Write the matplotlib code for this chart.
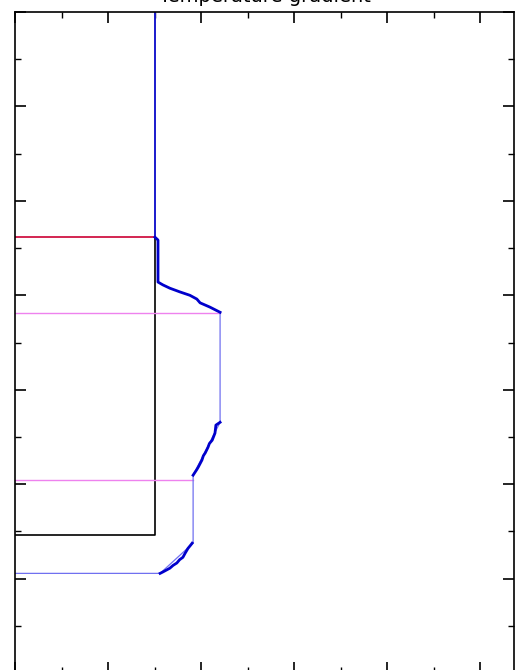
import matplotlib
matplotlib.use("Agg")
import matplotlib.pyplot as plt
from matplotlib.ticker import MultipleLocator

# ---- data (x value, depth) ----
# boundary box (black)
box_x = [0.301, 0.301, 0.0]
box_depth = [47.7, 110.8, 110.8]

# red marker line
red_x = [0.0, 0.301]
red_depth = [47.7, 47.7]

# violet marker lines
violet1_x = [0.0, 0.441]
violet1_depth = [63.8, 63.8]
violet2_x = [0.0, 0.383]
violet2_depth = [99.2, 99.2]

# measured profile segments (thick blue)
seg1_x = [0.301, 0.301, 0.3075, 0.3075, 0.318, 0.333, 0.355, 0.376, 0.391, 0.398, 0.419, 0.441]
seg1_depth = [0.0, 47.7, 48.3, 57.2, 57.8, 58.5, 59.3, 60.0, 60.8, 61.6, 62.5, 63.6]

seg2_x = [0.441, 0.432, 0.430, 0.424, 0.418, 0.415, 0.409, 0.405, 0.402, 0.394, 0.391, 0.387, 0.383]
seg2_depth = [86.9, 87.5, 89.2, 90.7, 91.4, 92.2, 93.4, 94.0, 94.9, 96.4, 96.9, 97.5, 98.1]

seg3_x = [0.381, 0.377, 0.372, 0.366, 0.361, 0.354, 0.348, 0.340, 0.333, 0.318, 0.312]
seg3_depth = [112.5, 113.0, 113.6, 114.6, 115.5, 116.0, 116.7, 117.2, 117.8, 118.6, 118.9]

# full profile path (thin blue connecting line)
path_x = [0.441, 0.441, 0.383, 0.383, 0.312, 0.0]
path_depth = [63.6, 86.9, 98.1, 112.5, 118.9, 118.9]

fig = plt.figure(figsize=(5.19, 6.70), dpi=100)
ax = fig.add_axes([15 / 519, -3 / 670, 499 / 519, 661 / 670])

ax.plot(box_x, box_depth, color="black", lw=1.2)
ax.plot(red_x, red_depth, color="#cc0033", lw=1.2)
ax.plot(violet1_x, violet1_depth, color="#ee82ee", lw=1.0)
ax.plot(violet2_x, violet2_depth, color="#ee82ee", lw=1.0)
ax.plot(path_x, path_depth, color="#7070f0", lw=0.9)
ax.plot(seg1_x[:2], seg1_depth[:2], color="#1a1acc", lw=1.4)
ax.plot(seg1_x[1:], seg1_depth[1:], color="#0000cc", lw=2.0)
ax.plot(seg2_x, seg2_depth, color="#0000cc", lw=2.0)
ax.plot(seg3_x, seg3_depth, color="#0000cc", lw=2.0)

ax.set_xlim(0, 1.073)
ax.set_ylim(140, 0)
ax.xaxis.set_major_locator(MultipleLocator(0.2))
ax.xaxis.set_minor_locator(MultipleLocator(0.1))
ax.yaxis.set_major_locator(MultipleLocator(20))
ax.yaxis.set_minor_locator(MultipleLocator(10))
ax.tick_params(which="both", direction="in", top=True, right=True,
               labelleft=False, labelbottom=False, color="black")
ax.tick_params(which="major", length=8, width=1.2)
ax.tick_params(which="minor", length=4.5, width=1.0)
for s in ax.spines.values():
    s.set_linewidth(1.2)

ax.set_title("Temperature gradient", fontsize=14, pad=7)

fig.savefig("out.png", dpi=100)
